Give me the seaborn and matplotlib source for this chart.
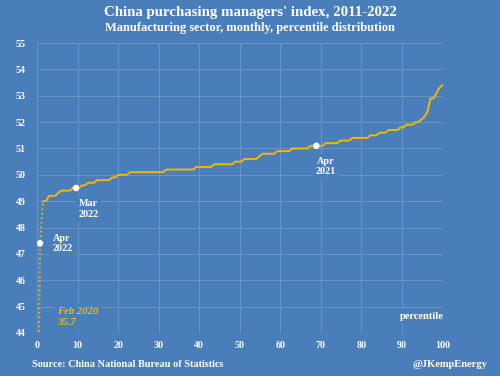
import numpy as np
import pandas as pd
import matplotlib
matplotlib.use("Agg")
import matplotlib.pyplot as plt
import seaborn as sns

# China NBS manufacturing PMI, monthly, Jan 2011 - Apr 2022
pmi_2011 = [52.9, 52.2, 53.4, 52.9, 52.0, 50.9, 50.7, 50.9, 51.2, 50.4, 49.0, 50.3]
pmi_2012 = [50.5, 51.0, 53.1, 53.3, 50.4, 50.2, 50.1, 49.2, 49.8, 50.2, 50.6, 50.6]
pmi_2013 = [50.4, 50.1, 50.9, 50.6, 50.8, 50.1, 50.3, 51.0, 51.1, 51.4, 51.4, 51.0]
pmi_2014 = [50.5, 50.2, 50.3, 50.4, 50.8, 51.0, 51.7, 51.1, 51.1, 50.8, 50.3, 50.1]
pmi_2015 = [49.8, 49.9, 50.1, 50.1, 50.2, 50.2, 50.0, 49.7, 49.8, 49.8, 49.6, 49.7]
pmi_2016 = [49.4, 49.0, 50.2, 50.1, 50.1, 50.0, 49.9, 50.4, 50.4, 51.2, 51.7, 51.4]
pmi_2017 = [51.3, 51.6, 51.8, 51.2, 51.2, 51.7, 51.4, 51.7, 52.4, 51.6, 51.8, 51.6]
pmi_2018 = [51.3, 50.3, 51.5, 51.4, 51.9, 51.5, 51.2, 51.3, 50.8, 50.2, 50.0, 49.4]
pmi_2019 = [49.5, 49.2, 50.5, 50.1, 49.4, 49.4, 49.7, 49.5, 49.8, 49.3, 50.2, 50.2]
pmi_2020 = [50.0, 35.7, 52.0, 50.8, 50.6, 50.9, 51.1, 51.0, 51.5, 51.4, 52.1, 51.9]
pmi_2021 = [51.3, 50.6, 51.9, 51.1, 51.0, 50.9, 50.4, 50.1, 49.6, 49.2, 50.1, 50.3]
pmi_2022 = [50.1, 50.2, 49.5, 47.4]

# highlighted months
marked_labels = ["Apr\n2022", "Mar\n2022", "Apr\n2021"]
marked_values = [pmi_2022[3], pmi_2022[2], pmi_2021[3]]

bg = "#4a7ebb"
grid_c = "#6c94c6"
gold = "#f2b705"

sns.set_theme(style="darkgrid")
plt.rcParams["font.family"] = ["Liberation Serif", "DejaVu Serif"]
plt.rcParams["font.weight"] = "bold"

pmi = np.array(pmi_2011 + pmi_2012 + pmi_2013 + pmi_2014 + pmi_2015 + pmi_2016
               + pmi_2017 + pmi_2018 + pmi_2019 + pmi_2020 + pmi_2021 + pmi_2022)
vals = np.sort(pmi)
n = len(vals)
pct = np.arange(n) / (n - 1) * 100
d = pd.DataFrame({"pct": pct, "pmi": vals})

fig = plt.figure(figsize=(5, 3.76), dpi=100, facecolor=bg)
ax = fig.add_axes([0.074, 0.1144, 0.811, 0.7712])
ax.set_facecolor(bg)

# bottom tail (Feb 2020 / Apr 2022) dotted, the rest solid
sns.lineplot(x="pct", y="pmi", data=d.iloc[:3], ax=ax, color=gold, lw=1.3,
             linestyle=(0, (1, 1.5)), sort=False)
sns.lineplot(x="pct", y="pmi", data=d.iloc[2:], ax=ax, color=gold, lw=1.4,
             sort=False)

# marked points: mean rank of tied values
mx = [np.mean(pct[vals == v]) for v in marked_values]
sns.scatterplot(x=mx, y=marked_values, ax=ax, color="white", s=22,
                edgecolor="none", zorder=5)

lab_kw = dict(color="white", fontsize=7.3, fontweight="bold", textcoords="offset points",
              bbox=dict(boxstyle="square,pad=0.3", fc=bg, ec="none"))
ax.annotate(marked_labels[0], (mx[0], marked_values[0]), xytext=(9, 0),
            ha="left", va="center", **lab_kw)
ax.annotate(marked_labels[1], (mx[1], marked_values[1]), xytext=(2, -8),
            ha="left", va="top", **lab_kw)
ax.annotate(marked_labels[2], (mx[2], marked_values[2]), xytext=(7, -8),
            ha="center", va="top", **lab_kw)

ax.text(5, 44.6, "Feb 2020\n35.7", color=gold, fontsize=7.7, fontweight="bold",
        fontstyle="italic", ha="left", va="center", linespacing=1.25,
        bbox=dict(boxstyle="square,pad=0.3", fc=bg, ec="none"))
ax.text(94.8, 44.62, "percentile", color="white", fontsize=7.6, fontweight="bold",
        ha="center", va="center",
        bbox=dict(boxstyle="square,pad=0.3", fc=bg, ec="none"))

ax.set(xlim=(0, 100), ylim=(44, 55), xlabel="", ylabel="")
ax.set_xticks(range(0, 101, 10))
ax.set_yticks(range(44, 56))
ax.grid(True, color=grid_c, lw=0.7)
ax.set_axisbelow(True)
for s in ax.spines.values():
    s.set_visible(False)
ax.tick_params(axis="both", colors="white", labelsize=7.2, length=0)
ax.tick_params(axis="y", pad=8)
ax.tick_params(axis="x", pad=6)
for t in ax.get_xticklabels() + ax.get_yticklabels():
    t.set_fontweight("bold")

fig.text(0.5, 0.966, "China purchasing managers' index, 2011-2022", color="white",
         fontsize=10.7, fontweight="bold", ha="center", va="center")
fig.text(0.5, 0.926, "Manufacturing sector, monthly, percentile distribution",
         color="white", fontsize=9, fontweight="bold", ha="center", va="center")
fig.text(0.064, 0.03, "Source: China National Bureau of Statistics", color="white",
         fontsize=7.4, fontweight="bold", ha="left", va="center")
fig.text(0.974, 0.03, "@JKempEnergy", color="white",
         fontsize=7.6, fontweight="bold", ha="right", va="center")

fig.savefig("out.png", dpi=100, facecolor=bg)
